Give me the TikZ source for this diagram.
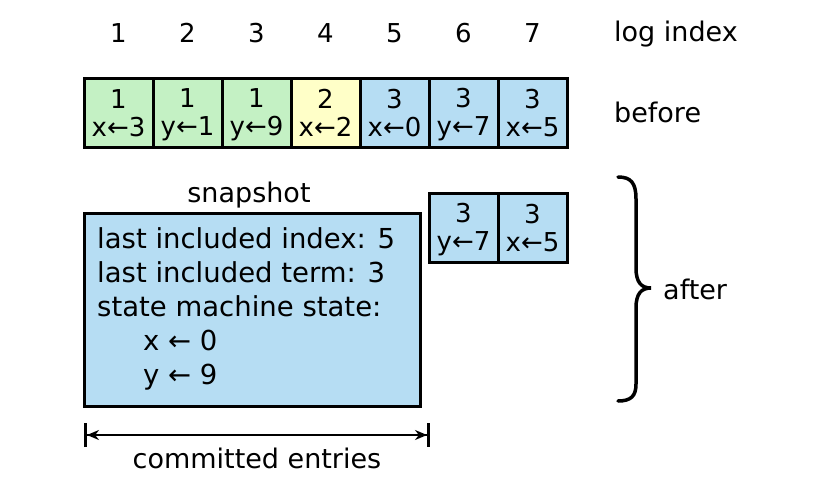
\documentclass[tikz,border=0pt]{standalone}
\usepackage{fontspec}
\setmainfont{DejaVu Sans}
\usetikzlibrary{arrows.meta}
\definecolor{cgreen}{HTML}{C4F1C4}
\definecolor{cyellow}{HTML}{FFFFC8}
\definecolor{cblue}{HTML}{B6DDF3}
\tikzset{
  cell/.style={draw=black, line width=3pt, minimum width=69pt, minimum height=69pt, inner sep=0pt, align=center, font=\fontsize{26}{28}\selectfont},
  lbl/.style={inner sep=0pt, font=\fontsize{27}{32}\selectfont},
  idx/.style={inner sep=0pt, font=\fontsize{26}{30}\selectfont}
}
\newcommand{\cellstrut}{\rule[-4.5pt]{0pt}{28pt}}
\newcommand{\cl}[2]{\cellstrut #1\\\cellstrut #2}
\begin{document}
\begin{tikzpicture}[x=1pt, y=-1pt]
\useasboundingbox (0,0) rectangle (825,480);
% log index row
\foreach \i/\x in {1/118.5,2/187.5,3/256.5,4/325.5,5/394.5,6/463.5,7/532.5}{
  \node[idx] (i\i) at (\x,33) {\i};
}
\node[lbl, anchor=west] (logidx) at (614,34) {log index};
% before row
\node[cell, fill=cgreen] (b1) at (118.5,112.5) {\cl{1}{x←3}};
\node[cell, fill=cgreen] (b2) at (187.5,112.5) {\cl{1}{y←1}};
\node[cell, fill=cgreen] (b3) at (256.5,112.5) {\cl{1}{y←9}};
\node[cell, fill=cyellow] (b4) at (325.5,112.5) {\cl{2}{x←2}};
\node[cell, fill=cblue] (b5) at (394.5,112.5) {\cl{3}{x←0}};
\node[cell, fill=cblue] (b6) at (463.5,112.5) {\cl{3}{y←7}};
\node[cell, fill=cblue] (b7) at (532.5,112.5) {\cl{3}{x←5}};
\node[lbl, anchor=west] (before) at (614,112) {before};
% after row
\node[cell, fill=cblue] (a6) at (463.5,227.5) {\cl{3}{y←7}};
\node[cell, fill=cblue] (a7) at (532.5,227.5) {\cl{3}{x←5}};
% snapshot
\node[lbl] (snaplbl) at (249,195) {snapshot};
\node[draw=black, line width=3pt, fill=cblue, minimum width=336pt, minimum height=193pt, inner sep=0pt] (snap) at (252,309.5) {};
\node[anchor=north west, inner sep=0pt, align=left, font=\fontsize{27.5}{34}\selectfont] (snaptxt) at (97,227)
  {last included index: 5\\last included term: 3\\state machine state:\\\hspace*{46pt}x ← 0\\\hspace*{46pt}y ← 9};
% brace
\draw[line width=3.5pt, line cap=round] (618,177) .. controls (631,177) and (636,183) .. (636,199) -- (636,268)
  .. controls (636,282) and (641,288) .. (651,288)
  .. controls (641,288) and (636,294) .. (636,308) -- (636,384)
  .. controls (636,396) and (631,401) .. (618,401);
\node[lbl, anchor=west] (after) at (663,289) {after};
% committed entries
\coordinate (cl) at (84,435);
\coordinate (cr) at (430,435);
\draw[line width=2.2pt, {Bar[width=24pt,line width=3pt]Stealth[length=12pt,width=10pt]}-{Stealth[length=12pt,width=10pt]Bar[width=24pt,line width=3pt]}] (cl) -- (cr);
\node[lbl] (committed) at (257,458) {committed entries};
\end{tikzpicture}
\end{document}
